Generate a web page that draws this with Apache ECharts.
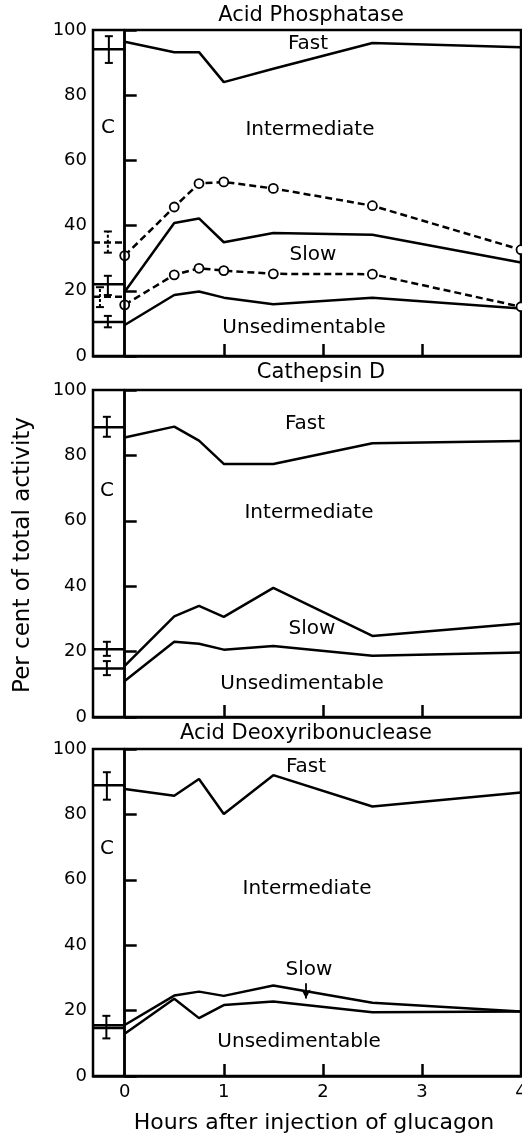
<!DOCTYPE html>
<html>
<head>
<meta charset="utf-8">
<script src="https://cdn.jsdelivr.net/npm/echarts@6/dist/echarts.min.js"></script>
<style>
html,body{margin:0;padding:0;background:#fff;}
#chart{width:522px;height:1139px;}
</style>
</head>
<body>
<div id="chart"></div>
<script>
// ---- data ----
const times = [0, 0.5, 0.75, 1, 1.5, 2.5, 4];
const panelTitles = ['Acid Phosphatase', 'Cathepsin D', 'Acid Deoxyribonuclease'];
const yTicks = [0, 20, 40, 60, 80, 100];
const xTickLabels = [0, 1, 2, 3, 4];
const xInnerTicks = [1, 2, 3];

// Acid Phosphatase
const apFast = [96.4, 93.2, 93.2, 84.0, 88.1, 96.0, 94.7];
const apSlowDashed = [30.8, 45.7, 52.9, 53.4, 51.4, 46.1, 32.6];
const apSlow = [19.7, 40.8, 42.2, 34.9, 37.7, 37.2, 28.7];
const apUnsedDashed = [15.7, 24.9, 26.9, 26.2, 25.2, 25.1, 15.1];
const apUnsed = [9.5, 18.7, 19.8, 17.9, 15.9, 17.9, 14.6];
const apCtrl = [94.1, 34.8, 22.0, 18.2, 10.4];
const apCtrlDashed = [0, 1, 0, 1, 0];
const apErrX = [-0.16, -0.17, -0.17, -0.25, -0.17];
const apErrLow = [89.9, 31.7, 18.7, 15.0, 8.8];
const apErrHigh = [98.1, 38.2, 24.6, 21.1, 12.3];

// Cathepsin D
const cdFast = [85.5, 88.8, 84.5, 77.4, 77.4, 83.7, 84.4];
const cdSlow = [15.6, 30.8, 34.0, 30.6, 39.5, 24.8, 28.6];
const cdUnsed = [11.0, 23.0, 22.4, 20.6, 21.7, 18.7, 19.7];
const cdCtrl = [88.6, 20.7, 14.8];
const cdCtrlDashed = [0, 0, 0];
const cdErrX = [-0.18, -0.18, -0.18];
const cdErrLow = [85.7, 18.7, 12.8];
const cdErrHigh = [91.8, 23.0, 17.1];

// Acid Deoxyribonuclease
const dnFast = [87.8, 85.7, 90.8, 80.1, 92.0, 82.4, 86.7];
const dnSlow = [15.6, 24.6, 25.8, 24.5, 27.7, 22.4, 19.7];
const dnUnsed = [12.9, 23.6, 17.7, 21.7, 22.8, 19.5, 19.7];
const dnCtrl = [88.9, 15.5, 14.7];
const dnCtrlDashed = [0, 0, 0];
const dnErrX = [-0.18, -0.185];
const dnErrLow = [84.5, 11.5];
const dnErrHigh = [92.9, 18.4];
const dnArrow = [1.83, 28.4, 23.7];

// region labels: [x, y, text]
const apLabels = [[1.85, 95.9, 'Fast'], [1.87, 69.4, 'Intermediate'], [1.90, 31.0, 'Slow'], [1.81, 8.6, 'Unsedimentable'], [-0.17, 70, 'C']];
const cdLabels = [[1.82, 89.8, 'Fast'], [1.86, 62.3, 'Intermediate'], [1.89, 27.1, 'Slow'], [1.79, 10.3, 'Unsedimentable'], [-0.18, 69.3, 'C']];
const dnLabels = [[1.83, 94.6, 'Fast'], [1.84, 57.4, 'Intermediate'], [1.86, 32.4, 'Slow'], [1.76, 10.5, 'Unsedimentable'], [-0.18, 69.6, 'C']];

const xMin = -0.32, xMax = 4;
const FONT = 'DejaVu Sans';
const LW = 2.5;

// ---- build option ----
const grids = [
  {left: 93, right: 1, top: 30, height: 326},
  {left: 93, right: 1, top: 390, height: 327},
  {left: 93, right: 1, top: 749, height: 327}
].map(g => Object.assign({show: true, borderColor: '#000', borderWidth: LW, backgroundColor: 'transparent',
  containLabel: false, outerBoundsMode: 'none'}, g));

const xAxes = [0, 1, 2].map(i => ({
  type: 'value', gridIndex: i, min: xMin, max: xMax,
  axisLine: {show: true, onZero: false, lineStyle: {color: '#000', width: LW}},
  axisTick: {show: true, inside: true, length: 12, customValues: xInnerTicks, lineStyle: {color: '#000', width: LW}},
  axisLabel: {show: i === 2, customValues: xTickLabels, color: '#000', fontSize: 18, fontFamily: FONT, margin: 7,
    showMaxLabel: true, showMinLabel: true, hideOverlap: false},
  splitLine: {show: false}
}));

const yAxes = [0, 1, 2].map(i => ({
  type: 'value', gridIndex: i, min: 0, max: 100, interval: 20,
  axisLine: {show: true, lineStyle: {color: '#000', width: LW}},
  axisTick: {show: true, inside: true, length: 12, lineStyle: {color: '#000', width: LW}},
  axisLabel: {color: '#000', fontSize: 18, fontFamily: FONT, margin: 6, customValues: yTicks},
  splitLine: {show: false}
}));

const series = [];
function pairs(vals) { return times.map((t, k) => [t, vals[k]]); }

function solidLine(gi, vals) {
  series.push({
    type: 'line', xAxisIndex: gi, yAxisIndex: gi, data: pairs(vals),
    symbol: 'none', lineStyle: {color: '#000', width: LW}, z: 3, silent: true, animation: false
  });
}
function dashedCircleLine(gi, vals) {
  series.push({
    type: 'line', xAxisIndex: gi, yAxisIndex: gi, data: pairs(vals),
    symbol: 'circle', symbolSize: 9, showSymbol: true,
    itemStyle: {color: '#fff', borderColor: '#000', borderWidth: 1.8},
    lineStyle: {color: '#000', width: LW, type: [7, 4]}, z: 4, silent: true, animation: false, clip: false
  });
}
function controls(gi, ctrl, dashedFlags) {
  ctrl.forEach((v, k) => {
    series.push({
      type: 'line', xAxisIndex: gi, yAxisIndex: gi, data: [[xMin, v], [0, v]],
      symbol: 'none', lineStyle: {color: '#000', width: LW, type: dashedFlags[k] ? [7, 4] : 'solid'},
      z: 3, silent: true, animation: false
    });
  });
}
function errorBars(gi, xs, lows, highs, dashedFlags) {
  series.push({
    type: 'custom', xAxisIndex: gi, yAxisIndex: gi, silent: true, animation: false, z: 5,
    data: xs.map((x, k) => [x, lows[k], highs[k], dashedFlags ? dashedFlags[k] : 0]),
    renderItem: function (params, api) {
      const x = api.value(0), lo = api.value(1), hi = api.value(2), d = api.value(3);
      const p1 = api.coord([x, lo]), p2 = api.coord([x, hi]);
      const w = 4;
      const capStyle = {stroke: '#000', lineWidth: 2};
      return {type: 'group', children: [
        {type: 'line', shape: {x1: p1[0], y1: p1[1], x2: p2[0], y2: p2[1]},
          style: {stroke: '#000', lineWidth: 2, lineDash: d ? [3, 2] : null}},
        {type: 'line', shape: {x1: p1[0] - w, y1: p1[1], x2: p1[0] + w, y2: p1[1]}, style: capStyle},
        {type: 'line', shape: {x1: p2[0] - w, y1: p2[1], x2: p2[0] + w, y2: p2[1]}, style: capStyle}
      ]};
    }
  });
}
function labels(gi, items) {
  series.push({
    type: 'custom', xAxisIndex: gi, yAxisIndex: gi, silent: true, animation: false, z: 6, clip: false,
    data: items.map(it => [it[0], it[1], it[2]]),
    dimensions: ['x', 'y', {name: 'text', type: 'ordinal'}],
    renderItem: function (params, api) {
      const p = api.coord([api.value(0), api.value(1)]);
      const txt = items[params.dataIndex][2];
      return {type: 'text', x: p[0], y: p[1],
        style: {text: txt, fill: '#000', fontSize: 20, fontFamily: FONT, align: 'center', verticalAlign: 'middle'}};
    }
  });
}
function zeroLine(gi) {
  series.push({
    type: 'line', xAxisIndex: gi, yAxisIndex: gi, data: [], silent: true, animation: false,
    markLine: {silent: true, symbol: 'none', animation: false, label: {show: false},
      lineStyle: {color: '#000', width: LW, type: 'solid'}, data: [{xAxis: 0}]}
  });
}

// panel 1
zeroLine(0);
controls(0, apCtrl, apCtrlDashed);
errorBars(0, apErrX, apErrLow, apErrHigh, apCtrlDashed);
solidLine(0, apFast); solidLine(0, apSlow); solidLine(0, apUnsed);
dashedCircleLine(0, apSlowDashed); dashedCircleLine(0, apUnsedDashed);
labels(0, apLabels);
// panel 2
zeroLine(1);
controls(1, cdCtrl, cdCtrlDashed);
errorBars(1, cdErrX, cdErrLow, cdErrHigh, null);
solidLine(1, cdFast); solidLine(1, cdSlow); solidLine(1, cdUnsed);
labels(1, cdLabels);
// panel 3
zeroLine(2);
controls(2, dnCtrl, dnCtrlDashed);
errorBars(2, dnErrX, dnErrLow, dnErrHigh, null);
solidLine(2, dnFast); solidLine(2, dnSlow); solidLine(2, dnUnsed);
labels(2, dnLabels);
series.push({
  type: 'line', xAxisIndex: 2, yAxisIndex: 2, data: [], silent: true, animation: false,
  markLine: {silent: true, animation: false, label: {show: false}, symbolSize: [7, 9],
    lineStyle: {color: '#000', width: 1.8, type: 'solid'},
    data: [[{coord: [dnArrow[0], dnArrow[1]], symbol: 'none'}, {coord: [dnArrow[0], dnArrow[2]], symbol: 'arrow'}]]}
});

const titlePos = [[311, 15.5], [321, 373], [306, 733.5]];
const graphic = panelTitles.map((t, i) => ({
  type: 'text', x: titlePos[i][0], y: titlePos[i][1], silent: true,
  style: {text: t, fontSize: 21, fontFamily: FONT, fill: '#000', align: 'center', verticalAlign: 'middle'}
}));
graphic.push({type: 'text', x: 314, y: 1123, silent: true,
  style: {text: 'Hours after injection of glucagon', fontSize: 22, fontFamily: FONT, fill: '#000', align: 'center', verticalAlign: 'middle'}});
graphic.push({type: 'text', x: 23, y: 555, rotation: Math.PI / 2, silent: true,
  style: {text: 'Per cent of total activity', fontSize: 23, fontFamily: FONT, fill: '#000', align: 'center', verticalAlign: 'middle'}});

const chart = echarts.init(document.getElementById('chart'), null, {renderer: 'canvas'});
chart.setOption({
  backgroundColor: '#fff',
  animation: false,
  grid: grids, xAxis: xAxes, yAxis: yAxes, series: series, graphic: graphic
});
</script>
</body>
</html>
